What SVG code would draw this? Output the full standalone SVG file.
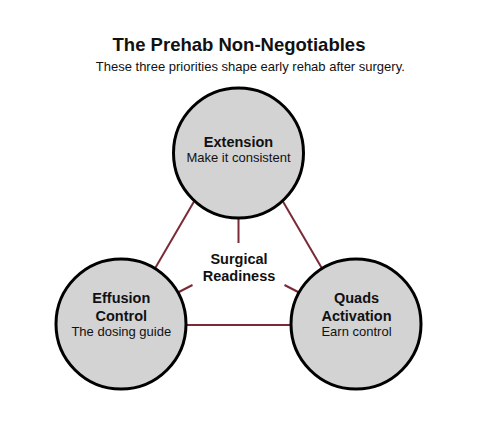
<svg xmlns="http://www.w3.org/2000/svg" width="500" height="423" viewBox="0 0 500 423">
<style>
.bg{fill:#ffffff}
.node circle{fill:#d3d3d3;stroke:#000000;stroke-width:3}
.edge{stroke:#7a2a36;stroke-width:2;fill:none;stroke-linecap:butt}
text{font-family:"Liberation Sans",Arial,sans-serif;fill:#111111;text-anchor:middle}
.t{font-size:18.5px;font-weight:bold}
.s{font-size:13px}
.b{font-size:14.5px;font-weight:bold}
.r{font-size:13px}
</style>
<rect class="bg" x="0" y="0" width="500" height="423"/>
<text class="t" x="239" y="51">The Prehab Non-Negotiables</text>
<text class="s" x="250.3" y="70.5">These three priorities shape early rehab after surgery.</text>
<g id="connectors">
<line class="edge" x1="199" y1="193" x2="150" y2="277"/>
<line class="edge" x1="278" y1="193" x2="327" y2="277"/>
<line class="edge" x1="180" y1="325" x2="297" y2="325"/>
<line class="edge" x1="238.5" y1="215" x2="238.5" y2="243"/>
<line class="edge" x1="175" y1="294" x2="192.5" y2="285"/>
<line class="edge" x1="302" y1="294" x2="284.5" y2="285"/>
</g>
<g id="center-label">
<text class="b" x="239" y="264">Surgical</text>
<text class="b" x="239" y="281">Readiness</text>
</g>
<g id="node-extension" class="node">
<circle cx="238.5" cy="153" r="65"/>
<text class="b" x="238.5" y="147.3">Extension</text>
<text class="r" x="238.5" y="161.7">Make it consistent</text>
</g>
<g id="node-effusion" class="node">
<circle cx="121" cy="324" r="65"/>
<text class="b" x="121.3" y="303.3">Effusion</text>
<text class="b" x="121.3" y="321">Control</text>
<text class="r" x="121.3" y="335.7">The dosing guide</text>
</g>
<g id="node-quads" class="node">
<circle cx="356" cy="324" r="65"/>
<text class="b" x="356.5" y="303.3">Quads</text>
<text class="b" x="356.5" y="321">Activation</text>
<text class="r" x="356.5" y="335.7">Earn control</text>
</g>
</svg>
